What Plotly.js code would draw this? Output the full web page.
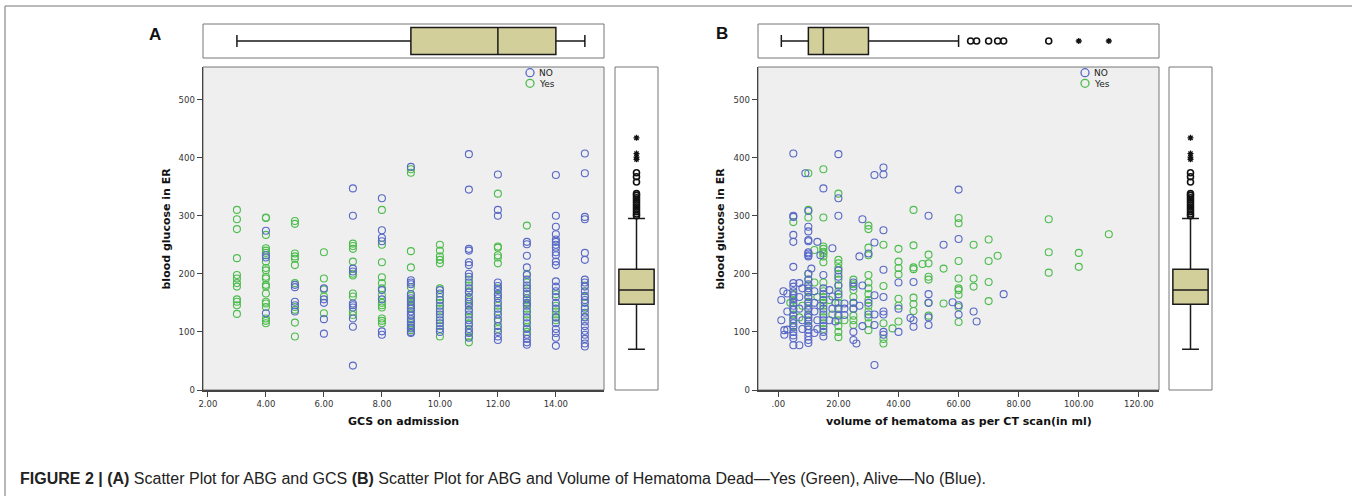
<!DOCTYPE html>
<html><head><meta charset="utf-8">
<script src="https://cdn.plot.ly/plotly-3.0.1.min.js"></script>
<style>html,body{margin:0;padding:0;background:#fff}#chart{width:1357px;height:496px}</style>
</head><body><div id="chart"></div>
<script>
// ---------------- DATA ----------------
// Panel A: GCS on admission (x) vs blood glucose in ER (y)
const gcsLevels = [3,4,5,6,7,8,9,10,11,12,13,14,15];
const glucoseNoByGcs = [
  [],
  [274,232,228,132],
  [181,177,152,146,135],
  [175,156,150,122,97],
  [347,300,209,204,149,146,142,123,109,42],
  [330,275,262,256,172,156,101,95],
  [384,189,185,182,165,158,152,145,140,135,128,122,118,112,106,100,98],
  [172,166,155,145,135,130,120,115,105,100],
  [406,345,243,240,220,215,200,195,185,175,168,160,152,145,138,130,120,112,105,98,90],
  [371,310,300,185,179,172,165,158,150,140,130,122,110,100,92,86],
  [255,251,231,211,198,190,180,175,165,158,150,145,135,125,115,105,95,88,82,78],
  [370,300,281,268,259,255,250,245,237,232,221,215,187,178,170,160,150,140,125,115,105,98,90,76],
  [407,373,298,294,236,224,190,185,178,170,162,155,150,140,133,125,118,110,102,95,88,80,75]
];
const glucoseYesByGcs = [
  [310,294,277,227,198,192,184,178,156,152,146,131],
  [297,296,267,244,240,236,221,210,206,195,192,181,178,166,152,149,143,123,119,115],
  [291,286,235,230,226,215,184,143,138,116,92],
  [237,192,173,161,132],
  [252,248,243,221,200,197,166,161,135,129],
  [310,250,220,194,184,175,163,150,146,142,123,119,115],
  [380,374,239,211,177,162,155,148,142,130,115,108,103],
  [250,240,230,224,218,175,160,150,140,125,110,92],
  [190,180,170,155,148,135,125,115,100,92,82],
  [338,247,245,232,228,218,175,162,145,135,118,105],
  [283,200,185,170,155,148,140,130,120,108,100],
  [165,145,135,130,125,120],
  [180,160,143,126]
];

// Panel B: volume of hematoma (x) vs blood glucose in ER (y)
const volumeNoB = [
  5,5,5,5,5, 9, 10,10,10,10,10,10,10, 13,14,15,18, 20,20,20, 27,28,30,32,32, 35,35,35, 50,55,60,60,
  1,1,1.7,2,2,3,3,3,
  5,5,5,5,5,5,5,5,5,5,5,5,5,5,5,5,5,
  7,7,7,7,8,8,8,
  10,10,11,10,10,10,10,10,10,10,10,10,10,10,10,10,10,10,10,10,10,
  12,12,12,13,13,12,14,
  15,15,15,15,15,15,15,15,15,15,
  17,17,18,18,19,19,
  20,20,20,20,20,20,22,22,22,
  25,25,25,25,25,25,26,28,28,27,30,30,32,32,32,32,
  35,35,35,35,35,35,40,40,40,45,44,45,45,50,50,50,50,58,
  60,60,65,66,75
];
const glucoseNoB = [
  407,300,298,267,255, 373, 308,281,273,258,256,237,232, 255,232,347,244, 406,330,300, 230,294,235,254,370, 383,371,275, 300,250,345,260,
  155,120,170,103,95,166,135,104,
  212,184,178,170,163,158,150,145,138,128,122,115,108,100,94,89,77,
  77,184,160,140,175,120,105,
  235,230,209,200,190,182,175,168,160,152,145,138,130,125,118,110,104,98,92,86,81,
  170,150,135,120,105,98,145,
  198,175,165,155,140,130,120,110,100,92,
  172,120,161,140,150,118,
  206,195,180,165,140,128,149,140,129,
  185,178,150,140,100,86,80,180,110,145,150,130,163,130,43,112,
  207,160,135,130,100,95,185,140,100,186,124,120,109,165,150,125,112,151,
  146,130,135,118,165
];
const volumeYesB = [
  5,10,10,10,12,15,15,15,15,15,20,30,30,35,40,45,45,50,
  60,60,90,110,65,70,73,90,100,60,70,90,100,60,65,65,70,60,60,60,70,60,60,
  5,5,5,5,5,5,4,7,8,
  10,10,10,10,10,10,10,10,10,10,12,13,
  15,15,15,15,15,15,15,15,15,15,15,15,17,18,
  20,20,20,20,20,20,20,20,20,20,20,20,20,20,20,22,
  25,25,25,25,25,25,25,25,25,
  30,30,30,30,30,30,30,30,30,30,30,30,
  35,35,35,35,38,40,40,40,40,40,40,45,45,45,45,45,48,50,50,50,50,50,55,55
];
const glucoseYesB = [
  289,373,310,297,241,380,297,247,243,238,338,283,277,250,243,310,249,233,
  296,287,294,268,250,259,231,237,236,222,222,202,212,192,192,178,186,175,172,164,153,143,117,
  165,155,140,130,120,110,150,125,145,
  200,190,180,170,160,150,140,130,120,110,185,160,
  235,230,220,185,170,160,150,145,135,125,115,105,155,130,
  224,218,210,200,190,180,170,160,150,140,130,120,110,100,91,120,
  190,182,172,160,150,140,128,120,112,
  245,232,198,185,175,165,155,145,135,125,115,103,
  179,115,88,80,106,221,210,199,157,145,118,211,208,159,148,136,217,218,195,190,150,128,209,149
];

// Box plot summaries (q1, median, q3, lower whisker, upper whisker)
const gcsBox = [9, 12, 14, 3, 15];
const volumeBox = [10, 15, 30, 1, 60];
const glucoseBox = [147.5, 172, 208, 70, 295];
const volumeOutliers = [64, 66, 70, 73, 75, 90];
const volumeExtremes = [100, 110];
const glucoseOutliers = [374, 367, 358, 338, 335, 331, 327, 323, 319, 315, 311, 307, 303, 300];
const glucoseExtremes = [434, 407, 401, 397];

// Tick labels
const glucoseTicks = [0, 100, 200, 300, 400, 500];
const gcsTicks = [2, 4, 6, 8, 10, 12, 14];
const gcsTickText = ['2.00','4.00','6.00','8.00','10.00','12.00','14.00'];
const volumeTicks = [0, 20, 40, 60, 80, 100, 120];
const volumeTickText = ['.00','20.00','40.00','60.00','80.00','100.00','120.00'];

// ---------------- LAYOUT HELPERS ----------------
const W = 1357, H = 496;
const px = v => v / W;
const py = v => 1 - v / H;
const BLUE = 'rgb(88,104,198)';
const GREEN = 'rgb(76,188,76)';
const BOXFILL = '#d3cf9b';

function flatX(levels, groups) { const o = []; groups.forEach((g, i) => g.forEach(() => o.push(levels[i]))); return o; }
function flatY(groups) { const o = []; groups.forEach(g => g.forEach(v => o.push(v))); return o; }

const openCircle = c => ({symbol: 'circle-open', size: 7, color: c, line: {color: c, width: 1.1}});

const traces = [
  {type:'scatter', mode:'markers', x: flatX(gcsLevels, glucoseYesByGcs), y: flatY(glucoseYesByGcs), xaxis:'x', yaxis:'y', marker: openCircle(GREEN), hoverinfo:'x+y', showlegend:false},
  {type:'scatter', mode:'markers', x: flatX(gcsLevels, glucoseNoByGcs), y: flatY(glucoseNoByGcs), xaxis:'x', yaxis:'y', marker: openCircle(BLUE), hoverinfo:'x+y', showlegend:false},
  {type:'scatter', mode:'markers', x: volumeYesB, y: glucoseYesB, xaxis:'x2', yaxis:'y2', marker: openCircle(GREEN), hoverinfo:'x+y', showlegend:false},
  {type:'scatter', mode:'markers', x: volumeNoB, y: glucoseNoB, xaxis:'x2', yaxis:'y2', marker: openCircle(BLUE), hoverinfo:'x+y', showlegend:false}
];

function hbox(stats, xa, ya) {
  return {type:'box', orientation:'h', y:[0], q1:[stats[0]], median:[stats[1]], q3:[stats[2]], lowerfence:[stats[3]], upperfence:[stats[4]],
    xaxis:xa, yaxis:ya, width:0.8, whiskerwidth:0.45, fillcolor:BOXFILL, line:{color:'#1a1a1a', width:1.5}, boxpoints:false, hoverinfo:'skip', showlegend:false};
}
function vbox(stats, xa, ya) {
  return {type:'box', orientation:'v', x:[0], q1:[stats[0]], median:[stats[1]], q3:[stats[2]], lowerfence:[stats[3]], upperfence:[stats[4]],
    xaxis:xa, yaxis:ya, width:0.82, whiskerwidth:0.48, fillcolor:BOXFILL, line:{color:'#1a1a1a', width:1.5}, boxpoints:false, hoverinfo:'skip', showlegend:false};
}
const outCircle = {symbol:'circle-open', size:6, color:'#111', line:{color:'#111', width:1.6}};
const outStar = {symbol:'asterisk-open', size:5, color:'#111', line:{color:'#111', width:1.3}};

traces.push(hbox(gcsBox, 'x3', 'y3'));
traces.push(vbox(glucoseBox, 'x4', 'y4'));
traces.push(hbox(volumeBox, 'x5', 'y5'));
traces.push(vbox(glucoseBox, 'x6', 'y6'));
// outliers
traces.push({type:'scatter', mode:'markers', x: volumeOutliers, y: volumeOutliers.map(() => 0), xaxis:'x5', yaxis:'y5', marker: outCircle, hoverinfo:'x', showlegend:false});
traces.push({type:'scatter', mode:'markers', x: volumeExtremes, y: volumeExtremes.map(() => 0), xaxis:'x5', yaxis:'y5', marker: outStar, hoverinfo:'x', showlegend:false});
['x4','x6'].forEach((xa, i) => {
  const ya = i === 0 ? 'y4' : 'y6';
  traces.push({type:'scatter', mode:'markers', y: glucoseOutliers, x: glucoseOutliers.map(() => 0), xaxis:xa, yaxis:ya, marker: outCircle, hoverinfo:'y', showlegend:false});
  traces.push({type:'scatter', mode:'markers', y: glucoseExtremes, x: glucoseExtremes.map(() => 0), xaxis:xa, yaxis:ya, marker: outStar, hoverinfo:'y', showlegend:false});
});

const tickFont = {family:'DejaVu Sans, Arial, sans-serif', size:8.5, color:'#333'};
const axisBase = {showgrid:false, zeroline:false, ticks:'outside', ticklen:5, tickwidth:1, tickcolor:'#444', showline:true, linecolor:'#444', linewidth:1.5, tickfont:tickFont, fixedrange:true};
const hidden = {visible:false, fixedrange:true, showgrid:false, zeroline:false};

const scatterY = [py(390), py(67)];
const topY = [py(58), py(24)];
const xA = [px(203), px(604)], xB = [px(758), px(1159)];
const xAr = [px(615), px(658)], xBr = [px(1169), px(1212)];
const rangeA = [1.83, 15.66], rangeB = [-6.76, 126.7], rangeG = [0, 556];

const layout = {
  width: W, height: H, margin: {l:0, r:0, t:0, b:0}, paper_bgcolor:'#fff', plot_bgcolor:'rgba(0,0,0,0)', showlegend:false,
  xaxis: Object.assign({}, axisBase, {domain:xA, range:rangeA, tickvals:gcsTicks, ticktext:gcsTickText, anchor:'y'}),
  yaxis: Object.assign({}, axisBase, {domain:scatterY, range:rangeG, tickvals:glucoseTicks, anchor:'x'}),
  xaxis2: Object.assign({}, axisBase, {domain:xB, range:rangeB, tickvals:volumeTicks, ticktext:volumeTickText, anchor:'y2'}),
  yaxis2: Object.assign({}, axisBase, {domain:scatterY, range:rangeG, tickvals:glucoseTicks, anchor:'x2'}),
  xaxis3: Object.assign({}, hidden, {domain:xA, range:rangeA, anchor:'y3'}),
  yaxis3: Object.assign({}, hidden, {domain:topY, range:[-0.5, 0.5], anchor:'x3'}),
  xaxis4: Object.assign({}, hidden, {domain:xAr, range:[-0.5, 0.5], anchor:'y4'}),
  yaxis4: Object.assign({}, hidden, {domain:scatterY, range:rangeG, anchor:'x4'}),
  xaxis5: Object.assign({}, hidden, {domain:xB, range:rangeB, anchor:'y5'}),
  yaxis5: Object.assign({}, hidden, {domain:topY, range:[-0.5, 0.5], anchor:'x5'}),
  xaxis6: Object.assign({}, hidden, {domain:xBr, range:[-0.5, 0.5], anchor:'y6'}),
  yaxis6: Object.assign({}, hidden, {domain:scatterY, range:rangeG, anchor:'x6'}),
  shapes: [], annotations: []
};

function rect(x0, y0, x1, y1, fill, line) {
  return {type:'rect', xref:'paper', yref:'paper', x0:px(x0), x1:px(x1), y0:py(y1), y1:py(y0), fillcolor:fill, line:{color:line, width:1}, layer:'below'};
}
// outer frame
layout.shapes.push({type:'line', xref:'paper', yref:'paper', x0:px(5), x1:px(1352), y0:py(6), y1:py(6), line:{color:'#777', width:1.2}});
layout.shapes.push({type:'line', xref:'paper', yref:'paper', x0:px(5), x1:px(5), y0:py(6), y1:py(500), line:{color:'#888', width:1.2}});
// subplot backgrounds / frames
layout.shapes.push(rect(203, 67, 604, 390, '#efefef', '#777'));
layout.shapes.push(rect(758, 67, 1159, 390, '#efefef', '#777'));
layout.shapes.push(rect(203, 24, 604, 58, '#fff', '#777'));
layout.shapes.push(rect(758, 24, 1159, 58, '#fff', '#777'));
layout.shapes.push(rect(615, 67, 658, 390, '#fff', '#777'));
layout.shapes.push(rect(1169, 67, 1212, 390, '#fff', '#777'));

// legends (decoration)
function legendCircle(cx, cy, c) {
  return {type:'circle', xref:'paper', yref:'paper', xsizemode:'pixel', ysizemode:'pixel', xanchor:px(cx), yanchor:py(cy), x0:-4, x1:4, y0:-4, y1:4, line:{color:c, width:1.3}, fillcolor:'rgba(0,0,0,0)'};
}
const ann = (text, x, y, o) => Object.assign({text, xref:'paper', yref:'paper', x:px(x), y:py(y), showarrow:false, xanchor:'center', yanchor:'middle'}, o || {});
const legFont = {family:'DejaVu Sans, Arial, sans-serif', size:9, color:'#222'};
[[530, 537], [1085, 1092]].forEach(([cx, tx]) => {
  layout.shapes.push(legendCircle(cx, 72.7, BLUE));
  layout.shapes.push(legendCircle(cx, 83.3, GREEN));
  layout.annotations.push(ann('NO', tx, 73, {xanchor:'left', font:legFont}));
  layout.annotations.push(ann('Yes', tx, 84, {xanchor:'left', font:legFont}));
});

const titleFont = {family:'DejaVu Sans, Arial, sans-serif', size:11, color:'#111'};
layout.annotations.push(ann('<b>GCS on admission</b>', 403.5, 421, {font:titleFont}));
layout.annotations.push(ann('<b>volume of hematoma as per CT scan(in ml)</b>', 958.5, 421, {font:titleFont}));
layout.annotations.push(ann('<b>blood glucose in ER</b>', 166, 228.5, {font:titleFont, textangle:-90}));
layout.annotations.push(ann('<b>blood glucose in ER</b>', 720, 228.5, {font:titleFont, textangle:-90}));
const panelFont = {family:'Liberation Sans, Arial, sans-serif', size:17, color:'#111'};
layout.annotations.push(ann('<b>A</b>', 155, 34, {font:panelFont}));
layout.annotations.push(ann('<b>B</b>', 722, 33, {font:panelFont}));
layout.annotations.push(ann('<b>FIGURE 2 | (A)</b> Scatter Plot for ABG and GCS <b>(B)</b> Scatter Plot for ABG and Volume of Hematoma Dead\u2014Yes (Green), Alive\u2014No (Blue).',
  18, 478, {xanchor:'left', font:{family:'Liberation Sans Narrow, Liberation Sans, Arial, sans-serif', size:16, color:'#222'}}));

Plotly.newPlot('chart', traces, layout, {displayModeBar:false, staticPlot:true});
</script>
</body></html>
